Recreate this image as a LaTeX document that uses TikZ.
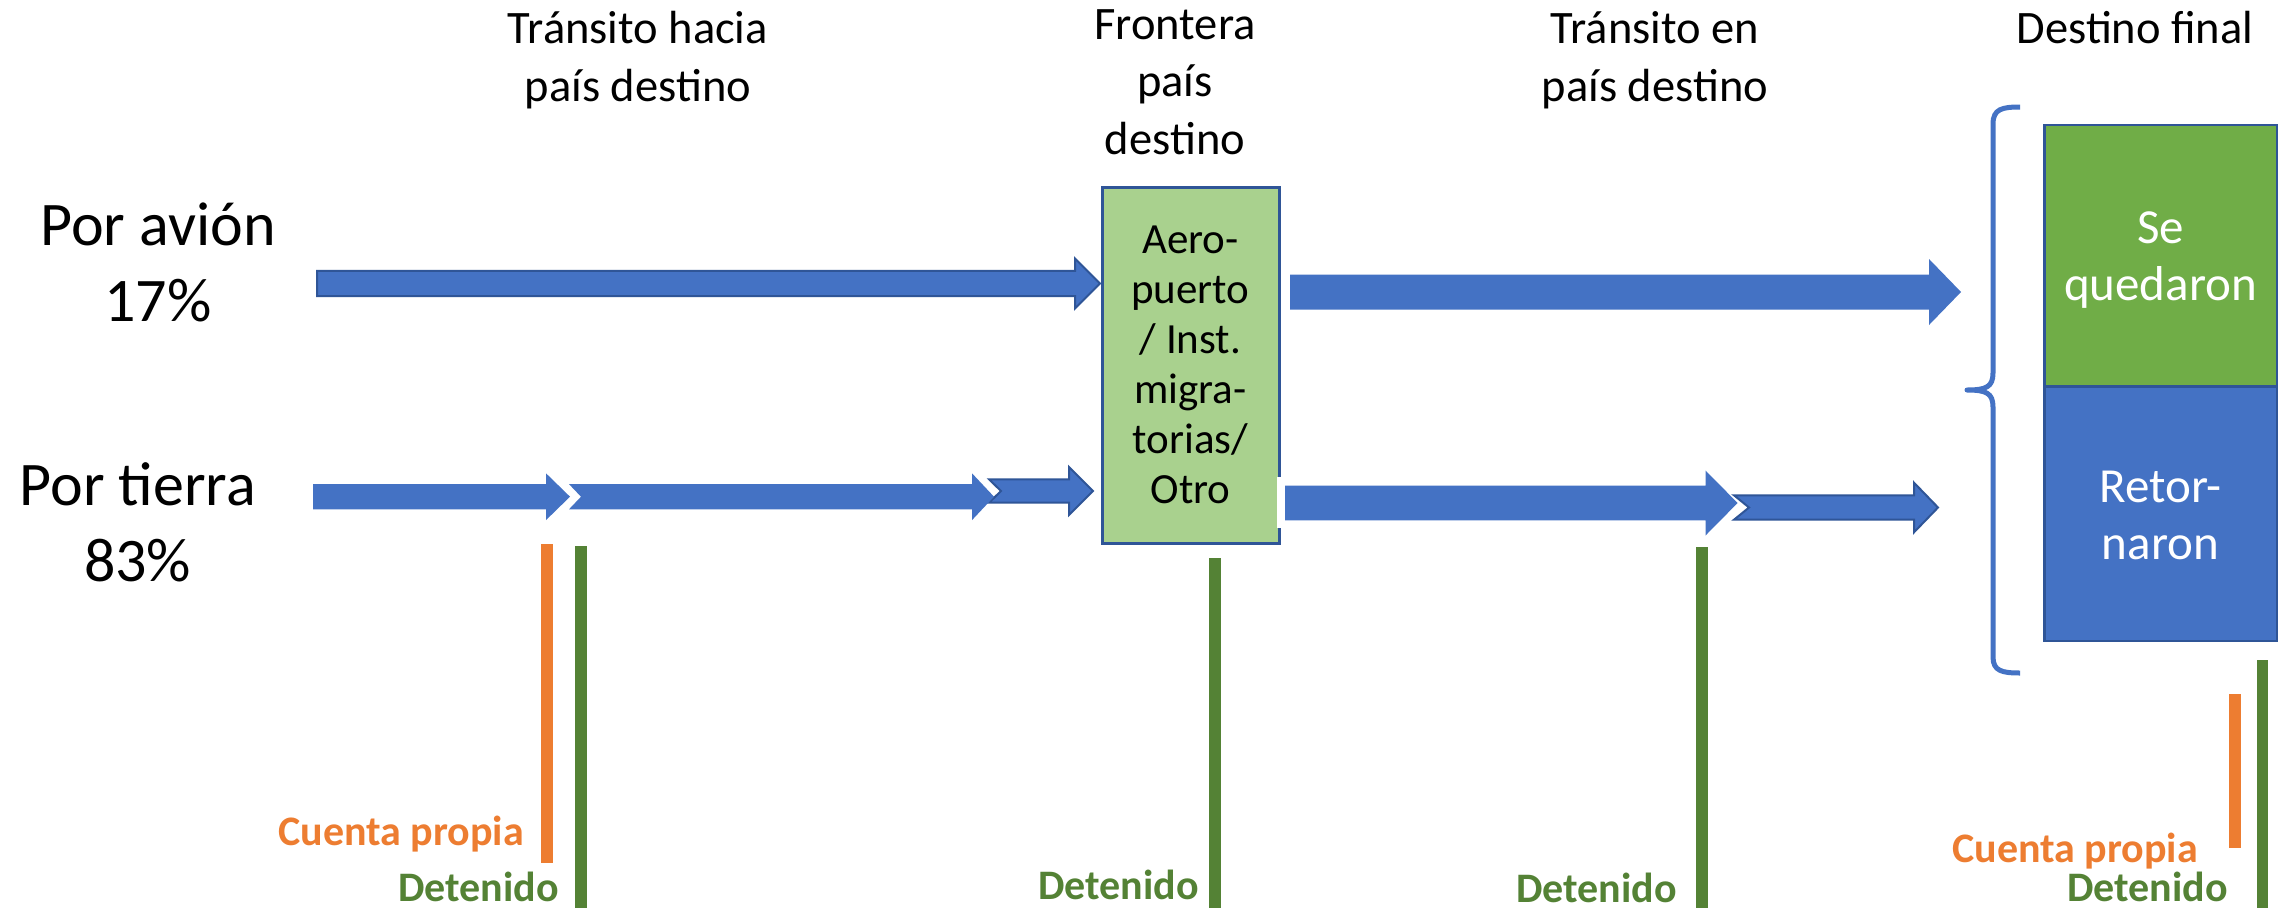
\documentclass[tikz,border=0pt]{standalone}
\usepackage{fontspec}
\setmainfont{Carlito}
\definecolor{abl}{HTML}{4472C4}
\definecolor{adk}{HTML}{2F5597}
\definecolor{boxgreen}{HTML}{A9D18E}
\definecolor{sgreen}{HTML}{70AD47}
\definecolor{orng}{HTML}{ED7D31}
\definecolor{dgreen}{HTML}{548235}
% #1 style, #2 tail x, #3 notch depth, #4 head base x, #5 tip x, #6 centre y, #7 shaft half height, #8 head half height
\newcommand{\blockarrow}[8]{%
  \path[#1] (#2,#6-#7) -- (#4,#6-#7) -- (#4,#6-#8) -- (#5,#6) -- (#4,#6+#8) -- (#4,#6+#7) -- (#2,#6+#7) -- (#2+#3,#6) -- cycle;}
\tikzset{
  hdr/.style={font=\fontsize{46.5}{56}\selectfont, inner sep=0pt, anchor=base},
  big/.style={font=\fontsize{62}{76}\selectfont, inner sep=0pt, anchor=base},
  lbl/.style={font=\bfseries\fontsize{42}{50}\selectfont, inner sep=0pt, anchor=base east},
  arrowplain/.style={fill=abl},
  arrowdark/.style={fill=abl, draw=adk, line width=2pt, line join=miter},
  frbox/.style={draw=adk, line width=3pt, fill=boxgreen, align=center,
    font=\fontsize{43}{50}\selectfont, inner sep=0pt},
  finbox/.style={draw=adk, line width=2.5pt, inner sep=0pt},
  wtext/.style={text=white, align=center, font=\fontsize{49}{57}\selectfont, inner sep=0pt},
  bracestyle/.style={draw=abl, line width=5pt, line cap=butt, line join=round}
}
\begin{document}
\begin{tikzpicture}[x=1pt,y=-1pt]
\useasboundingbox (0,0) rectangle (2287,908);
\fill[white] (0,0) rectangle (2287,908);

% headers
\node[hdr] (h1a) at (638,43.3) {Tránsito hacia};
\node[hdr] (h1b) at (638,101.7) {país destino};
\node[hdr] (h2a) at (1175,39.3) {Frontera};
\node[hdr] (h2b) at (1175,96.7) {país};
\node[hdr] (h2c) at (1175,154) {destino};
\node[hdr] (h3a) at (1655,43.3) {Tránsito en};
\node[hdr] (h3b) at (1655,101.7) {país destino};
\node[hdr] (h4a) at (2135,43) {Destino final};

% left labels
\node[big] (pa) at (158,245) {Por avión};
\node[big] (pap) at (158,321.7) {17\%};
\node[big] (pt) at (137.6,505) {Por tierra};
\node[big] (ptp) at (137.6,581.7) {83\%};

% border box
\node[frbox, minimum width=177pt, minimum height=356pt] (fr) at (1190.5,365)
  {Aero-\\puerto\\/ Inst.\\migra-\\torias/\\Otro};

% final boxes
\node[finbox, fill=sgreen, minimum width=232.5pt, minimum height=261.4pt] (sq) at (2160.5,255.9) {};
\node[finbox, fill=abl, minimum width=232.5pt, minimum height=254.4pt] (rt) at (2160.5,513.8) {};
\node[wtext] (sqt) at (2160.5,260.3) {Se\\quedaron};
\node[wtext] (rtt) at (2160.5,515.7) {Retor-\\naron};

% brace
\draw[bracestyle] (2020,107) .. controls (2002,107) and (1993,109) .. (1993,124)
  -- (1993,373) .. controls (1993,387) and (1986,390) .. (1967,390)
  .. controls (1986,390) and (1993,393) .. (1993,407)
  -- (1993,657) .. controls (1993,671) and (2002,673) .. (2020,673);

% arrows: plane
\blockarrow{arrowdark}{317}{0}{1075}{1100}{283.5}{12.7}{25}
\blockarrow{arrowplain}{1290}{0}{1929}{1961}{292}{17.5}{33}
% arrows: land, before border
\blockarrow{arrowdark}{989}{12}{1069}{1093}{491}{11.7}{24}
\blockarrow{arrowplain}{569}{12}{972}{994}{496.7}{12.6}{23.4}
\blockarrow{arrowplain}{313}{0}{546}{570}{496.7}{12.6}{23.4}
% arrows: land, after border
\blockarrow{arrowdark}{1734}{15}{1914}{1938}{507.5}{12.2}{24.8}
\blockarrow{arrowplain}{1285}{0}{1705.5}{1737.6}{503}{17.3}{32.5}
\fill[white] (1277,477) rectangle (1281.5,528);

% bars
\fill[orng] (541,544) rectangle (552.7,863);
\fill[dgreen] (575.3,546) rectangle (587.3,908);
\fill[dgreen] (1209,558) rectangle (1221,908);
\fill[dgreen] (1696,547) rectangle (1708,908);
\fill[orng] (2229,694) rectangle (2241,848);
\fill[dgreen] (2257,660) rectangle (2268,908);

% bar labels
\node[lbl, text=orng] (cp1) at (524,845) {Cuenta propia};
\node[lbl, text=dgreen] (dt1) at (559,901) {Detenido};
\node[lbl, text=dgreen] (dt2) at (1199,899) {Detenido};
\node[lbl, text=dgreen] (dt3) at (1677,902) {Detenido};
\node[lbl, text=orng] (cp2) at (2198,862) {Cuenta propia};
\node[lbl, text=dgreen] (dt4) at (2228,901) {Detenido};
\end{tikzpicture}
\end{document}
